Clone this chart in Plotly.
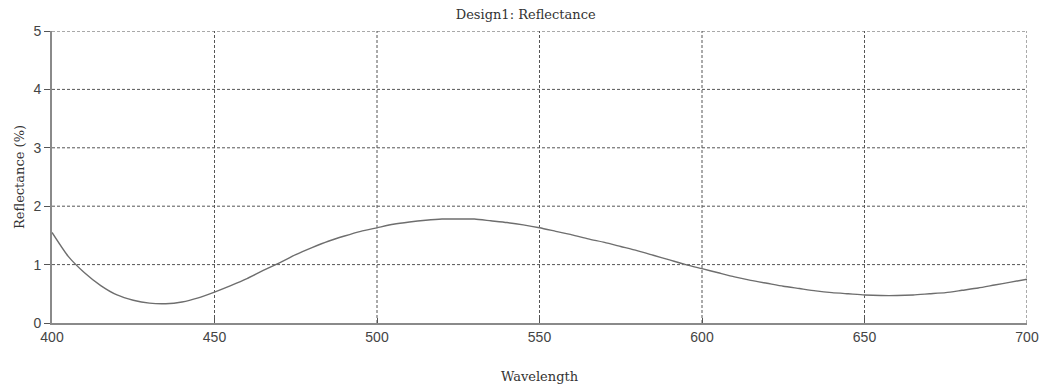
import plotly.graph_objects as go

# Reflectance spectrum of Design1 (wavelength in nm, reflectance in %)
wavelength = [400, 405, 410, 415, 420, 425, 430, 435, 440, 445,
              450, 455, 460, 465, 470, 475, 480, 485, 490, 495,
              500, 505, 510, 515, 520, 525, 530, 535, 540, 545,
              550, 555, 560, 565, 570, 575, 580, 585, 590, 595,
              600, 605, 610, 615, 620, 625, 630, 635, 640, 645,
              650, 655, 660, 665, 670, 675, 680, 685, 690, 695, 700]
reflectance = [1.55, 1.14, 0.86, 0.64, 0.48, 0.39, 0.34, 0.33, 0.36, 0.43,
               0.53, 0.64, 0.76, 0.90, 1.03, 1.17, 1.29, 1.40, 1.49, 1.57,
               1.63, 1.69, 1.73, 1.76, 1.78, 1.78, 1.78, 1.75, 1.72, 1.68,
               1.63, 1.57, 1.51, 1.44, 1.38, 1.31, 1.24, 1.16, 1.08, 1.00,
               0.93, 0.86, 0.79, 0.73, 0.68, 0.63, 0.59, 0.55, 0.52, 0.50,
               0.48, 0.47, 0.47, 0.48, 0.50, 0.52, 0.56, 0.60, 0.65, 0.70, 0.75]

x_ticks = [400, 450, 500, 550, 600, 650, 700]
y_ticks = [0, 1, 2, 3, 4, 5]

serif = "DejaVu Serif, Liberation Serif, serif"
sans = "Liberation Sans, Arial, sans-serif"

fig = go.Figure()
fig.add_trace(go.Scatter(
    x=wavelength, y=reflectance, mode="lines",
    line=dict(color="#6e6e6e", width=1.4, shape="spline", smoothing=0.6),
    showlegend=False, hoverinfo="skip",
))

# dotted grid, including the top and right borders
for xv in x_ticks[1:]:
    fig.add_shape(type="line", xref="x", yref="y", x0=xv, x1=xv,
                  y0=y_ticks[0], y1=y_ticks[-1],
                  line=dict(color="#555555", width=1, dash="3px,2px"), layer="below")
for yv in y_ticks[1:]:
    fig.add_shape(type="line", xref="x", yref="y", y0=yv, y1=yv,
                  x0=x_ticks[0], x1=x_ticks[-1],
                  line=dict(color="#555555", width=1, dash="3px,2px"), layer="below")

fig.update_layout(
    width=1043, height=387,
    margin=dict(l=52, r=16, t=31, b=64, autoexpand=False),
    paper_bgcolor="white", plot_bgcolor="white",
    title=dict(text="Design1: Reflectance", x=0.504, xanchor="center",
               y=0.962, yanchor="middle",
               font=dict(family=serif, size=13, color="#333333")),
    xaxis=dict(
        range=[400, 700], tickvals=x_ticks, ticktext=[str(v) for v in x_ticks],
        showgrid=False, zeroline=False, automargin=False,
        showline=True, linecolor="#8a8a8a", linewidth=2,
        ticks="inside", ticklen=5, tickcolor="#555555", tickwidth=1,
        tickfont=dict(family=sans, size=14, color="#444444"),
        title=dict(text="Wavelength", standoff=28,
                   font=dict(family=serif, size=13, color="#333333")),
    ),
    yaxis=dict(
        range=[0, 5], tickvals=y_ticks, ticktext=[str(v) for v in y_ticks],
        showgrid=False, zeroline=False, automargin=False,
        showline=True, linecolor="#8a8a8a", linewidth=2,
        ticks="outside", ticklen=6, tickcolor="#555555", tickwidth=1,
        tickfont=dict(family=sans, size=14, color="#444444"),
        title=dict(text="Reflectance (%)", standoff=6,
                   font=dict(family=serif, size=13, color="#333333")),
    ),
)

fig.write_html("out.html")
